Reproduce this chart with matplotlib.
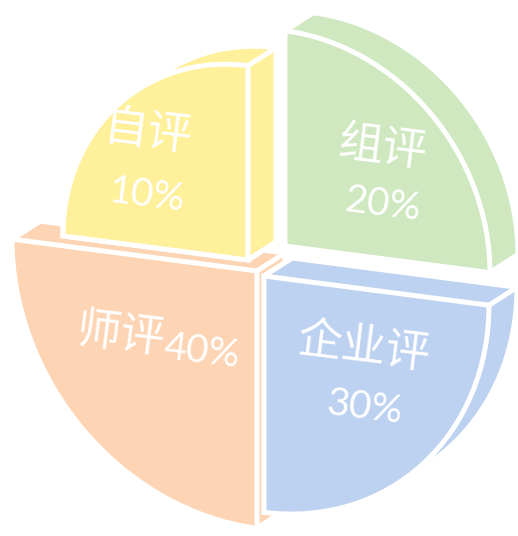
import numpy as np
import matplotlib
matplotlib.use("Agg")
import matplotlib.pyplot as plt
from matplotlib.patches import Wedge, Polygon
from matplotlib.transforms import Affine2D

# --- data ---
labels = ['组评', '自评', '师评', '企业评']
values = [20, 10, 40, 30]
colors = ['#CFE8BF', '#FFF09B', '#FDD5B5', '#BDD1F1']

# --- layout (pixel coords, y up) ---
W, H = 518, 536
start_angles = [0, 90, 180, 270]          # rose chart: equal quarter per item
corners = [(285, 290), (248, 276), (257, 265), (264, 260)]
name_pos = [(382, 388), (148, 403), (121, 201), (364, 189)]
pct_pos = [(382, 331), (147, 340), (202, 184), (364, 128)]
draw_order = [0, 2, 1, 3]                 # back to front
shear, stretch = 0.13, 1.05               # fake perspective
depth_px = np.array([28.0, 18.0])
edge_w = 3.6


def radius(v):
    return 165 + 2.0 * v


def hull(points):
    pts = sorted(set(map(tuple, np.round(points, 4))))
    def cross(o, a, b):
        return (a[0] - o[0]) * (b[1] - o[1]) - (a[1] - o[1]) * (b[0] - o[0])
    lower, upper = [], []
    for p in pts:
        while len(lower) >= 2 and cross(lower[-2], lower[-1], p) <= 0:
            lower.pop()
        lower.append(p)
    for p in reversed(pts):
        while len(upper) >= 2 and cross(upper[-2], upper[-1], p) <= 0:
            upper.pop()
        upper.append(p)
    return np.array(lower[:-1] + upper[:-1])


def in_wedge(p, r, t1, t2):
    ang = np.degrees(np.arctan2(p[1], p[0])) % 360
    return np.hypot(*p) < r and t1 <= ang <= t2


fig = plt.figure(figsize=(W / 100, H / 100), dpi=100)
ax = fig.add_axes([0, 0, 1, 1])
ax.set_xlim(0, W)
ax.set_ylim(0, H)
ax.axis('off')

M = np.array([[1, 0, 0], [-shear, stretch, 0], [0, 0, 1]])
# depth offset expressed in the local (unsheared) frame
d = np.array([depth_px[0], (depth_px[1] + shear * depth_px[0]) / stretch])

for i in draw_order:
    r = radius(values[i])
    t1 = start_angles[i]
    t2 = t1 + 90
    trans = Affine2D(M).translate(*corners[i]) + ax.transData

    th = np.radians(np.linspace(t1, t2, 90))
    front = np.vstack([[0, 0], np.column_stack([r * np.cos(th), r * np.sin(th)])])
    solid = hull(np.vstack([front, front + d]))
    ax.add_patch(Polygon(solid, closed=True, facecolor=colors[i],
                         edgecolor='white', lw=edge_w, transform=trans,
                         joinstyle='miter', zorder=1))
    # block edges running backwards from the front corners
    for p in [front[0], front[1], front[-1]]:
        q = p + d
        if not in_wedge(q, r, t1, t2):
            ax.plot([p[0], q[0]], [p[1], q[1]], color='white', lw=edge_w,
                    solid_capstyle='butt', transform=trans, zorder=1)
    ax.add_patch(Wedge((0, 0), r, t1, t2, facecolor=colors[i],
                       edgecolor='white', lw=edge_w, transform=trans,
                       joinstyle='miter', zorder=1))

for i in range(len(labels)):
    ax.text(*name_pos[i], labels[i], color='white', fontsize=32,
            family='Noto Sans CJK SC', fontweight='light',
            ha='center', va='center', rotation=-7, rotation_mode='anchor')
    ax.text(*pct_pos[i], f'{values[i]}%', color='white', fontsize=28,
            family='Lato', ha='center', va='center', rotation=-7,
            rotation_mode='anchor')

fig.savefig('out.png', dpi=100)
